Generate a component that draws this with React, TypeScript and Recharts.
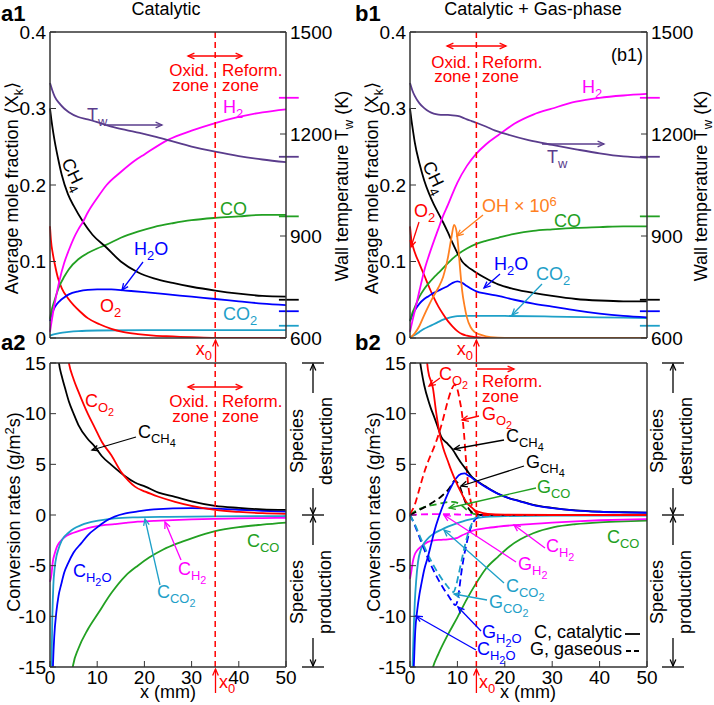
import React from 'react';
import { LineChart, Line, XAxis, YAxis, ReferenceLine } from 'recharts';

document.body.style.margin = '0';

// colours
const RED = '#ff0000';
const MAG = '#ff00ff';
const GRN = '#22a022';
const BLU = '#0000ff';
const CYA = '#1ea0c8';
const PUR = '#5a3c8c';
const ORA = '#ff8020';
const BLK = '#000000';
const AX = '#333333';
const FONT = '"Liberation Sans", Arial, Helvetica, sans-serif';

// x ticks (mm)
const xTicks = [0, 10, 20, 30, 40, 50];

// ---- a1: catalytic, mole fractions [x mm, X] ----
const a1CH4 = [[0, 0.3], [0.3, 0.285], [0.7, 0.268], [1, 0.257], [1.7, 0.235], [2.5, 0.213], [3.8, 0.188], [5, 0.173], [7, 0.152], [9, 0.135], [12, 0.118], [15, 0.1], [18.6, 0.086], [22, 0.078], [26, 0.072], [30, 0.067], [35, 0.062], [40, 0.058], [45, 0.055], [50, 0.054]];
const a1H2 = [[0, 0.008], [0.3, 0.02], [0.7, 0.035], [1, 0.045], [2, 0.075], [3, 0.098], [4, 0.115], [5, 0.13], [6, 0.142], [7, 0.152], [8, 0.164], [10, 0.183], [12, 0.2], [15, 0.217], [18, 0.232], [20, 0.24], [25, 0.259], [30, 0.271], [35, 0.281], [40, 0.289], [45, 0.295], [50, 0.299]];
const a1CO = [[0, 0.025], [0.3, 0.035], [1, 0.05], [2, 0.068], [3, 0.08], [4, 0.09], [6, 0.103], [8, 0.111], [10, 0.117], [12, 0.122], [15, 0.131], [18.6, 0.139], [22, 0.145], [26, 0.15], [30, 0.154], [35, 0.157], [40, 0.159], [45, 0.161], [50, 0.161]];
const a1H2O = [[0, 0.022], [0.3, 0.03], [0.7, 0.036], [1, 0.04], [2, 0.048], [3, 0.053], [4, 0.057], [6, 0.061], [8, 0.063], [10, 0.0635], [13, 0.0635], [16, 0.062], [20, 0.06], [25, 0.057], [30, 0.054], [35, 0.051], [40, 0.048], [45, 0.045], [50, 0.043]];
const a1O2 = [[0, 0.146], [0.2, 0.128], [0.6, 0.11], [1, 0.097], [1.7, 0.078], [2.5, 0.065], [3.8, 0.052], [5, 0.043], [6.3, 0.035], [8, 0.026], [10.5, 0.018], [13, 0.012], [15.4, 0.008], [18.6, 0.005], [22, 0.003], [26, 0.002], [30, 0.001], [35, 0], [50, 0]];
const a1CO2 = [[0, 0.003], [1, 0.005], [2, 0.0065], [4, 0.008], [6, 0.009], [10, 0.0098], [20, 0.0103], [35, 0.0104], [50, 0.0104]];
const a1Tw = [[0, 1350], [0.5, 1328], [1, 1310], [2, 1290], [3, 1275], [4, 1264], [6, 1250], [8, 1243], [10, 1235], [13, 1222], [16, 1212], [19, 1203], [22, 1193], [25, 1182], [30, 1163], [35, 1148], [40, 1135], [45, 1125], [50, 1117]];

// ---- b1: catalytic + gas-phase ----
const b1CH4 = [[0, 0.3], [0.3, 0.285], [0.7, 0.268], [1, 0.256], [2, 0.228], [3, 0.206], [4, 0.189], [5, 0.175], [6, 0.163], [7, 0.151], [8, 0.138], [9, 0.124], [10, 0.111], [11, 0.1], [12, 0.094], [13.6, 0.087], [16, 0.078], [18.6, 0.07], [22, 0.064], [26, 0.059], [30, 0.055], [35, 0.051], [40, 0.049], [45, 0.048], [50, 0.048]];
const b1H2 = [[0, 0.008], [0.5, 0.022], [1, 0.035], [2, 0.062], [3, 0.088], [4, 0.108], [5, 0.126], [6, 0.143], [7, 0.16], [8, 0.174], [9, 0.189], [10, 0.203], [12, 0.225], [14, 0.241], [16, 0.253], [18.6, 0.265], [22, 0.28], [26, 0.292], [30, 0.3], [35, 0.309], [40, 0.314], [45, 0.317], [50, 0.319]];
const b1CO = [[0, 0.022], [0.5, 0.033], [1, 0.04], [2, 0.054], [3, 0.064], [4, 0.072], [5, 0.079], [6, 0.085], [8, 0.098], [10, 0.109], [12, 0.117], [14, 0.123], [16, 0.127], [18.6, 0.131], [22, 0.136], [26, 0.14], [30, 0.142], [35, 0.144], [40, 0.145], [45, 0.146], [50, 0.146]];
const b1H2O = [[0, 0.022], [0.5, 0.03], [1, 0.036], [2, 0.045], [3, 0.051], [4, 0.055], [5, 0.059], [6, 0.062], [7, 0.065], [8, 0.068], [9, 0.072], [10, 0.074], [11, 0.072], [12, 0.068], [13, 0.064], [14, 0.061], [16, 0.058], [18.6, 0.055], [22, 0.05], [26, 0.045], [30, 0.041], [35, 0.036], [40, 0.032], [45, 0.029], [50, 0.027]];
const b1O2 = [[0, 0.146], [0.3, 0.128], [0.7, 0.118], [1, 0.112], [2, 0.097], [3, 0.082], [4, 0.067], [5, 0.053], [6, 0.041], [7, 0.031], [8, 0.022], [9, 0.015], [10, 0.009], [11, 0.005], [12, 0.003], [14, 0.001], [16, 0], [50, 0]];
const b1OH = [[0, 0], [1, 0.006], [2, 0.016], [3, 0.03], [4, 0.043], [5, 0.055], [6, 0.066], [7, 0.08], [8, 0.105], [8.7, 0.13], [9.3, 0.148], [9.8, 0.14], [10.2, 0.118], [10.6, 0.088], [11, 0.062], [11.5, 0.042], [12, 0.027], [12.8, 0.014], [13.6, 0.008], [15, 0.004], [17, 0.001], [20, 0], [50, 0]];
const b1CO2 = [[0, 0.001], [1, 0.004], [2, 0.008], [3, 0.012], [4, 0.015], [5, 0.018], [6, 0.021], [7, 0.024], [8, 0.026], [9, 0.0275], [10, 0.0285], [12, 0.029], [14, 0.029], [20, 0.0288], [30, 0.028], [40, 0.027], [50, 0.026]];
const b1Tw = [[0, 1350], [0.5, 1328], [1, 1312], [2, 1290], [3, 1276], [4, 1266], [5, 1260], [6, 1257], [7, 1256], [8, 1256], [9, 1255], [10, 1253], [11, 1249], [12, 1243], [13, 1238], [14, 1233], [16, 1222], [18, 1210], [20, 1201], [25, 1182], [30, 1168], [35, 1155], [40, 1143], [45, 1134], [50, 1130]];

// measured outlet values (short marks at right edge)
const outletSpecies = ['H2', 'CO', 'CH4', 'H2O', 'CO2'];
const outletValues = [0.314, 0.159, 0.05, 0.035, 0.016];
const outletColors = [MAG, GRN, BLK, BLU, CYA];
const outletTw = 1133;

// ---- a2: conversion rates, catalytic ----
const a2CCH4 = [[1.5, 17], [1.9, 15], [2.5, 13.7], [3.2, 12.5], [4, 11.2], [5, 10], [6, 8.9], [8, 7.5], [9.5, 6.75], [11, 5.8], [13, 4.95], [16, 3.8], [18, 3.2], [20.2, 2.8], [23, 2.2], [26.5, 1.8], [30, 1.35], [35, 0.9], [40, 0.7], [45, 0.55], [50, 0.5]];
const a2CO2 = [[3.5, 16.5], [4, 15], [5, 13.4], [6, 12.2], [8, 10], [9.5, 8.6], [11, 7.2], [13, 5.9], [15, 4.3], [16.6, 3.4], [18, 2.8], [20.2, 2.3], [23, 1.8], [26.5, 1.3], [30, 0.9], [35, 0.5], [40, 0.3], [45, 0.18], [50, 0.12]];
const a2CH2O = [[0.5, -17], [0.64, -14.7], [0.9, -12], [1.34, -9.6], [1.8, -8.0], [2.4, -6.8], [3, -5.7], [3.8, -4.8], [5, -3.7], [6.6, -2.8], [8, -2.0], [10.2, -1.15], [12, -0.55], [13.7, -0.16], [16, 0.15], [18.6, 0.35], [22, 0.55], [26, 0.66], [30, 0.68], [35, 0.62], [40, 0.52], [45, 0.42], [50, 0.33]];
const a2CH2 = [[0, -6.6], [0.3, -5.9], [0.6, -4.6], [1, -3.8], [1.5, -3.1], [2.4, -2.5], [3.5, -2.05], [5, -1.75], [6.6, -1.5], [8, -1.3], [10, -1.1], [13.7, -0.9], [16, -0.78], [18.6, -0.66], [22, -0.58], [26, -0.5], [30, -0.44], [35, -0.38], [40, -0.34], [45, -0.3], [50, -0.28]];
const a2CCO2 = [[0.2, -17], [0.35, -14], [0.5, -10], [0.7, -7], [1, -5.2], [1.4, -4.0], [1.7, -3.5], [2.4, -2.6], [3, -2.15], [3.8, -1.8], [5, -1.35], [6.6, -1.0], [8, -0.78], [10.2, -0.56], [13.7, -0.33], [18.6, -0.23], [25, -0.18], [35, -0.14], [50, -0.1]];
const a2CCO = [[4.5, -16], [4.9, -14.8], [6, -13.2], [8, -11.3], [10.2, -9.7], [13, -7.7], [16, -6.0], [18.6, -5.0], [21, -4.2], [24, -3.4], [27, -2.8], [30, -2.3], [35, -1.6], [40, -1.2], [45, -0.95], [50, -0.75]];

// ---- b2: conversion rates, catalytic (C) and gaseous (G) ----
const b2CCH4 = [[1.5, 17], [2, 15.5], [2.4, 14.3], [3, 12.8], [4, 11.1], [4.5, 10.4], [5, 9.8], [6, 8.5], [6.6, 7.7], [8, 7.0], [9.1, 6.4], [10, 5.7], [11, 5.0], [12, 4.4], [13, 3.8], [14, 3.4], [16, 2.8], [18.6, 2.1], [21, 1.65], [23, 1.4], [26, 1.0], [30, 0.7], [35, 0.45], [40, 0.33], [45, 0.27], [50, 0.23]];
const b2CO2 = [[3.2, 17], [3.8, 14.3], [4.85, 12.5], [5.5, 10.2], [6.3, 7.9], [7, 6.6], [8, 5.3], [8.7, 4.4], [9.5, 3.5], [10.8, 2.2], [12, 1.2], [13, 0.75], [13.6, 0.5], [14.5, 0.3], [16.4, 0.1], [20, 0.03], [30, 0], [50, 0]];
const b2GO2 = [[0, 0.1], [1, 1.0], [2, 2.6], [3, 4.2], [4, 5.5], [5, 6.6], [6, 7.9], [7, 9.5], [8, 11.3], [8.7, 12.3], [9.4, 12.85], [10, 12.4], [10.5, 11.3], [11, 9.9], [11.4, 8], [11.8, 5.5], [12.2, 3.3], [12.7, 1.6], [13.3, 0.7], [14, 0.25], [15, 0.05], [16, 0], [50, 0]];
const b2CH2O = [[0.6, -17], [0.8, -15], [1.1, -11.5], [1.5, -9.5], [2, -7.8], [2.4, -6.8], [3, -5.4], [3.8, -4.1], [4.5, -2.8], [5.2, -1.5], [6, -0.3], [6.6, 0.5], [7.5, 1.6], [8.7, 2.8], [9.7, 3.6], [10.8, 4.05], [11.5, 4.1], [12.3, 3.9], [13, 3.7], [13.6, 3.46], [14, 3.35], [16, 2.75], [18.6, 2.08], [21, 1.63], [23, 1.38], [26, 0.98], [30, 0.68], [35, 0.44], [40, 0.32], [45, 0.26], [50, 0.22]];
const b2GCH4 = [[0, 0], [1, 0.25], [2, 0.5], [3, 0.75], [4, 1.0], [5, 1.3], [6, 1.6], [7, 2.0], [8, 2.45], [8.8, 3.0], [9.4, 3.4], [10, 3.2], [10.5, 2.8], [11, 2.15], [11.5, 1.5], [12, 0.95], [12.5, 0.55], [13, 0.3], [13.6, 0.1], [14.5, 0], [50, 0]];
const b2GCO = [[0, 0], [1, 0.35], [2, 0.6], [3, 0.78], [4, 0.9], [5, 1.0], [6, 1.1], [7, 1.2], [8, 1.28], [9, 1.3], [10, 1.2], [11, 0.9], [12, 0.5], [13, 0.2], [14, 0.05], [15, 0], [50, 0]];
const b2GH2 = [[0, 0], [2, 0.05], [5, 0.08], [8, 0.08], [10, 0.05], [12, 0.02], [14, 0], [16, 0]];
const b2GH2O = [[0, 0], [1, -1.0], [2, -2.2], [3, -3.4], [4, -4.5], [5, -5.5], [6, -6.4], [7, -7.2], [8, -7.9], [9, -8.6], [9.5, -8.9], [10, -8.5], [10.4, -7.3], [10.8, -5.8], [11.3, -4.3], [11.9, -2.9], [12.4, -1.9], [12.9, -1.15], [13.5, -0.6], [14, -0.3], [15, -0.08], [16, 0], [50, 0]];
const b2GCO2 = [[0, 0], [1, -0.9], [2, -2.0], [3, -3.1], [4, -4.1], [5, -5.0], [6, -5.8], [7, -6.5], [8, -7.1], [8.7, -7.5], [9.2, -7.6], [9.7, -7.0], [10.2, -6.0], [10.7, -4.9], [11.2, -3.8], [11.8, -2.6], [12.4, -1.6], [13, -0.9], [13.5, -0.45], [14, -0.2], [15, -0.05], [16, 0], [50, 0]];
const b2CCO2 = [[0.4, -17], [0.6, -14], [0.8, -11], [1, -8.7], [1.3, -6.5], [1.7, -4.6], [2.3, -3.4], [3.1, -2.7], [4, -2.2], [5, -1.85], [6.6, -1.45], [8, -1.15], [10, -0.8], [12, -0.5], [14, -0.3], [16, -0.18], [20, -0.1], [30, -0.06], [50, -0.05]];
const b2CH2 = [[0, -6.3], [0.3, -5.5], [0.6, -4.6], [1, -3.9], [1.5, -3.5], [2.4, -3.1], [3.8, -2.65], [5, -2.5], [6.6, -2.45], [8, -2.4], [10, -2.25], [11, -2.0], [12, -1.8], [13.6, -1.5], [16, -1.3], [18.6, -1.15], [22, -1.0], [26, -0.88], [30, -0.75], [35, -0.62], [40, -0.52], [45, -0.45], [50, -0.4]];
const b2CCO = [[4.3, -16], [4.85, -15], [6, -13.7], [8, -11.8], [10, -10.1], [12, -8.3], [14, -6.7], [16, -5.3], [18.6, -4.1], [21, -3.1], [23.3, -2.4], [26, -1.8], [30.4, -1.2], [35, -0.9], [40, -0.72], [45, -0.62], [50, -0.56]];

const pts = (a: number[][]) => a.map(([x, y]) => ({ x, y }));

type Series = { d: number[][]; c: string; dash?: boolean };

const tickFont = { fontSize: 19, fill: '#000' };
const axisLine = { stroke: AX, strokeWidth: 1.5 };

function MolePanel({ left, width, rightW, x0, series, tw }: { left: number; width: number; rightW: number; x0: number; series: Series[]; tw: number[][] }) {
  return (
    <div style={{ position: 'absolute', left, top: 0 }}>
      <LineChart width={width} height={352} margin={{ top: 31, right: 0, bottom: 13, left: 0 }}>
        <XAxis xAxisId="b" type="number" dataKey="x" domain={[0, 50]} ticks={xTicks} interval={0} tick={false} tickSize={-6} height={1} stroke={AX} axisLine={axisLine} />
        <XAxis xAxisId="t" orientation="top" type="number" dataKey="x" domain={[0, 50]} ticks={xTicks} interval={0} tick={false} tickSize={-6} height={1} stroke={AX} axisLine={axisLine} />
        <YAxis yAxisId="l" type="number" domain={[0, 0.4]} ticks={[0, 0.1, 0.2, 0.3, 0.4]} interval={0} allowDataOverflow width={50} tickSize={-6} tickMargin={10} stroke={AX} axisLine={axisLine} tick={tickFont} tickFormatter={(v: number) => (v === 0 ? '0' : v.toFixed(1))} />
        <YAxis yAxisId="r" orientation="right" type="number" domain={[600, 1500]} ticks={[600, 900, 1200, 1500]} interval={0} allowDataOverflow width={rightW} tickSize={-6} tickMargin={10} stroke={AX} axisLine={axisLine} tick={tickFont} />
        {series.map((s, i) => (
          <Line key={i} xAxisId="b" yAxisId="l" data={pts(s.d)} dataKey="y" type="monotone" stroke={s.c} strokeWidth={1.8} dot={false} isAnimationActive={false} />
        ))}
        <Line xAxisId="b" yAxisId="r" data={pts(tw)} dataKey="y" type="monotone" stroke={PUR} strokeWidth={1.8} dot={false} isAnimationActive={false} />
        {outletValues.map((v, i) => (
          <ReferenceLine key={outletSpecies[i]} xAxisId="b" yAxisId="l" segment={[{ x: 48.5, y: v }, { x: 52.7, y: v }]} stroke={outletColors[i]} strokeWidth={1.8} ifOverflow="visible" />
        ))}
        <ReferenceLine xAxisId="b" yAxisId="r" segment={[{ x: 48.5, y: outletTw }, { x: 52.7, y: outletTw }]} stroke={PUR} strokeWidth={1.8} ifOverflow="visible" />
        <ReferenceLine xAxisId="b" yAxisId="l" x={x0} stroke={RED} strokeWidth={1.5} strokeDasharray="6 4" />
      </LineChart>
    </div>
  );
}

function RatePanel({ left, width, rightW, x0, series }: { left: number; width: number; rightW: number; x0: number; series: Series[] }) {
  return (
    <div style={{ position: 'absolute', left, top: 345 }}>
      <LineChart width={width} height={360} margin={{ top: 17, right: 0, bottom: 8, left: 0 }}>
        <XAxis xAxisId="b" type="number" dataKey="x" domain={[0, 50]} ticks={xTicks} interval={0} tickSize={-6} tickMargin={10} height={30} stroke={AX} axisLine={axisLine} tick={tickFont} />
        <XAxis xAxisId="t" orientation="top" type="number" dataKey="x" domain={[0, 50]} ticks={xTicks} interval={0} tick={false} tickSize={-6} height={1} stroke={AX} axisLine={axisLine} />
        <YAxis yAxisId="l" type="number" domain={[-15, 15]} ticks={[-15, -10, -5, 0, 5, 10, 15]} interval={0} allowDataOverflow width={50} tickSize={-6} tickMargin={10} stroke={AX} axisLine={axisLine} tick={tickFont} />
        <YAxis yAxisId="r" orientation="right" type="number" domain={[-15, 15]} ticks={[-15, -10, -5, 0, 5, 10, 15]} interval={0} allowDataOverflow width={rightW} tickSize={-6} tick={false} stroke={AX} axisLine={axisLine} />
        {series.map((s, i) => (
          <Line key={i} xAxisId="b" yAxisId="l" data={pts(s.d)} dataKey="y" type="monotone" stroke={s.c} strokeWidth={1.8} strokeDasharray={s.dash ? '7 4' : undefined} dot={false} isAnimationActive={false} />
        ))}
        <ReferenceLine xAxisId="b" yAxisId="l" x={x0} stroke={RED} strokeWidth={1.5} strokeDasharray="6 4" />
      </LineChart>
    </div>
  );
}

// ---- annotation helpers ----
type Seg = [string, number];
function parse(s: string, lvl = 0, out: Seg[] = []): Seg[] {
  let i = 0;
  let buf = '';
  const flush = () => {
    if (buf) out.push([buf, lvl]);
    buf = '';
  };
  while (i < s.length) {
    const ch = s[i];
    if (ch === '_' || ch === '^') {
      flush();
      const nl = ch === '_' ? (lvl >= 1 ? lvl + 1 : 1) : -1;
      let inner = '';
      if (s[i + 1] === '{') {
        let d = 1;
        let j = i + 2;
        while (d > 0 && j < s.length) {
          if (s[j] === '{') d++;
          else if (s[j] === '}') d--;
          j++;
        }
        inner = s.slice(i + 2, j - 1);
        i = j;
      } else {
        inner = s[i + 1];
        i += 2;
      }
      parse(inner, nl, out);
    } else {
      buf += ch;
      i++;
    }
  }
  flush();
  return out;
}

function Tx({ x, y, s, c = '#000', size = 18, a = 'start', r = 0, bold = false }: { x: number; y: number; s: string; c?: string; size?: number; a?: 'start' | 'middle' | 'end'; r?: number; bold?: boolean }) {
  const off = (l: number) => (l === 1 ? 0.3 : l >= 2 ? 0.5 : l < 0 ? -0.36 : 0);
  const sc = (l: number) => (l === 0 ? 1 : l >= 2 ? 0.6 : 0.72);
  let cur = 0;
  return (
    <text x={x} y={y} fill={c} fontSize={size} fontWeight={bold ? 'bold' : undefined} textAnchor={a} transform={r ? `rotate(${r} ${x} ${y})` : undefined}>
      {parse(s).map(([t, l], i) => {
        const tgt = off(l) * size;
        const dy = tgt - cur;
        cur = tgt;
        return (
          <tspan key={i} dy={dy || undefined} fontSize={size * sc(l)}>
            {t}
          </tspan>
        );
      })}
    </text>
  );
}

function head(xa: number, ya: number, xb: number, yb: number) {
  const an = Math.atan2(yb - ya, xb - xa);
  const L = 7;
  const w = 0.42;
  return `${xb - L * Math.cos(an - w)},${yb - L * Math.sin(an - w)} ${xb},${yb} ${xb - L * Math.cos(an + w)},${yb - L * Math.sin(an + w)}`;
}

function Arrow({ x1, y1, x2, y2, c, both = false }: { x1: number; y1: number; x2: number; y2: number; c: string; both?: boolean }) {
  return (
    <g stroke={c} strokeWidth={1.3} fill="none">
      <line x1={x1} y1={y1} x2={x2} y2={y2} />
      <polyline points={head(x1, y1, x2, y2)} />
      {both && <polyline points={head(x2, y2, x1, y1)} />}
    </g>
  );
}

function SpeciesBracket({ cx }: { cx: number }) {
  return (
    <g>
      {[363, 515, 667].map((y) => (
        <line key={y} x1={cx - 11} y1={y} x2={cx + 11} y2={y} stroke="#000" strokeWidth={1.3} />
      ))}
      <Arrow x1={cx} y1={393} x2={cx} y2={364} c="#000" />
      <Arrow x1={cx} y1={488} x2={cx} y2={514} c="#000" />
      <Arrow x1={cx} y1={545} x2={cx} y2={516} c="#000" />
      <Arrow x1={cx} y1={638} x2={cx} y2={666} c="#000" />
      <Tx x={cx - 10} y={441} s="Species" a="middle" r={-90} />
      <Tx x={cx + 19} y={441} s="destruction" a="middle" r={-90} />
      <Tx x={cx - 10} y={592} s="Species" a="middle" r={-90} />
      <Tx x={cx + 18} y={592} s="production" a="middle" r={-90} />
    </g>
  );
}

function Overlay() {
  return (
    <svg width={714} height={705} style={{ position: 'absolute', left: 0, top: 0, pointerEvents: 'none' }} fontFamily={FONT}>
      {/* ---- a1 ---- */}
      <Tx x={1} y={21} s="a1" size={22} bold />
      <Tx x={166} y={15} s="Catalytic" a="middle" />
      <Arrow x1={188} y1={56} x2={242} y2={56} c={RED} both />
      <Tx x={209} y={76} s="Oxid." c={RED} size={17} a="end" />
      <Tx x={209} y={91} s="zone" c={RED} size={17} a="end" />
      <Tx x={222} y={76} s="Reform." c={RED} size={17} />
      <Tx x={222} y={91} s="zone" c={RED} size={17} />
      <Tx x={87} y={121} s="T_w" c={PUR} />
      <Arrow x1={107} y1={125} x2={162} y2={125} c={PUR} />
      <Tx x={223} y={113} s="H_2" c={MAG} />
      <Tx x={61} y={162} s="CH_4" r={64} />
      <Tx x={220} y={215} s="CO" c={GRN} />
      <Tx x={134} y={255} s="H_2O" c={BLU} />
      <Arrow x1={143} y1={262} x2={122} y2={290} c={BLU} />
      <Tx x={100} y={312} s="O_2" c={RED} />
      <Tx x={223} y={320} s="CO_2" c={CYA} />
      <Tx x={18} y={188} s="Average mole fraction ⟨X_k⟩" a="middle" r={-90} />
      <Tx x={348} y={186} s="Wall temperature T_w (K)" a="middle" r={-90} />
      <Arrow x1={215.5} y1={362} x2={215.5} y2={340} c={RED} />
      <Tx x={212} y={355} s="x_0" c={RED} a="end" />

      {/* ---- b1 ---- */}
      <Tx x={355} y={21} s="b1" size={22} bold />
      <Tx x={533} y={15} s="Catalytic + Gas-phase" a="middle" />
      <Tx x={611} y={61} s="(b1)" />
      <Arrow x1={447} y1={46} x2={506} y2={46} c={RED} both />
      <Tx x={471} y={68} s="Oxid." c={RED} size={17} a="end" />
      <Tx x={471} y={82} s="zone" c={RED} size={17} a="end" />
      <Tx x={482} y={68} s="Reform." c={RED} size={17} />
      <Tx x={482} y={82} s="zone" c={RED} size={17} />
      <Tx x={582} y={93} s="H_2" c={MAG} />
      <Tx x={547} y={163} s="T_w" c={PUR} />
      <Arrow x1={542} y1={144} x2={604} y2={144} c={PUR} />
      <Tx x={422} y={165} s="CH_4" r={64} />
      <Tx x={482} y={212} s="OH × 10^6" c={ORA} />
      <Arrow x1={483} y1={215} x2={457} y2={236} c={ORA} />
      <Tx x={414} y={217} s="O_2" c={RED} />
      <Arrow x1={419} y1={222} x2={411} y2={247} c={RED} />
      <Tx x={554} y={227} s="CO" c={GRN} />
      <Tx x={494} y={270} s="H_2O" c={BLU} />
      <Arrow x1={500} y1={274} x2={484} y2={288} c={BLU} />
      <Tx x={536} y={280} s="CO_2" c={CYA} />
      <Arrow x1={542} y1={284} x2={512} y2={315} c={CYA} />
      <Tx x={378} y={188} s="Average mole fraction ⟨X_k⟩" a="middle" r={-90} />
      <Tx x={707} y={186} s="Wall temperature T_w (K)" a="middle" r={-90} />
      <Arrow x1={476.4} y1={362} x2={476.4} y2={340} c={RED} />
      <Tx x={473} y={355} s="x_0" c={RED} a="end" />

      {/* ---- a2 ---- */}
      <Tx x={1} y={350} s="a2" size={22} bold />
      <Arrow x1={188} y1={387} x2={242} y2={387} c={RED} both />
      <Tx x={209} y={407} s="Oxid." c={RED} size={17} a="end" />
      <Tx x={209} y={422} s="zone" c={RED} size={17} a="end" />
      <Tx x={222} y={407} s="Reform." c={RED} size={17} />
      <Tx x={222} y={422} s="zone" c={RED} size={17} />
      <Tx x={85} y={407} s="C_{O_2}" c={RED} />
      <Tx x={138} y={438} s="C_{CH_4}" />
      <Arrow x1={136} y1={437} x2={92} y2={450} c={BLK} />
      <Tx x={73} y={577} s="C_{H_2O}" c={BLU} />
      <Tx x={157} y={598} s="C_{CO_2}" c={CYA} />
      <Arrow x1={160} y1={585} x2={145} y2={519} c={CYA} />
      <Tx x={178} y={575} s="C_{H_2}" c={MAG} />
      <Arrow x1={181} y1={560} x2={165} y2={522} c={MAG} />
      <Tx x={247} y={547} s="C_{CO}" c={GRN} />
      <Tx x={20} y={512} s="Conversion rates (g/m^2s)" a="middle" r={-90} />
      <Tx x={168} y={698} s="x (mm)" a="middle" />
      <Arrow x1={215.5} y1={693} x2={215.5} y2={669} c={RED} />
      <Tx x={219} y={688} s="x_0" c={RED} />
      <SpeciesBracket cx={313} />

      {/* ---- b2 ---- */}
      <Tx x={355} y={350} s="b2" size={22} bold />
      <Arrow x1={477} y1={369} x2={514} y2={369} c={RED} />
      <Tx x={482} y={387} s="Reform." c={RED} size={17} />
      <Tx x={482} y={402} s="zone" c={RED} size={17} />
      <Tx x={439} y={380} s="C_{O_2}" c={RED} />
      <Arrow x1={440} y1={378} x2={429} y2={386} c={RED} />
      <Tx x={482} y={420} s="G_{O_2}" c={RED} />
      <Arrow x1={479} y1={416} x2={462} y2={420} c={RED} />
      <Tx x={506} y={442} s="C_{CH_4}" />
      <Arrow x1={504} y1={440} x2={454} y2={449} c={BLK} />
      <Tx x={526} y={468} s="G_{CH_4}" />
      <Arrow x1={524} y1={466} x2={461} y2={486} c={BLK} />
      <Tx x={537} y={493} s="G_{CO}" c={GRN} />
      <Arrow x1={536} y1={488} x2={449} y2={508} c={GRN} />
      <Tx x={607} y={543} s="C_{CO}" c={GRN} />
      <Tx x={546} y={552} s="C_{H_2}" c={MAG} />
      <Arrow x1={545} y1={548} x2={514} y2={525} c={MAG} />
      <Tx x={518} y={570} s="G_{H_2}" c={MAG} />
      <Arrow x1={516} y1={562} x2={444} y2={515} c={MAG} />
      <Tx x={506} y={592} s="C_{CO_2}" c={CYA} />
      <Arrow x1={504} y1={583} x2={444} y2={530} c={CYA} />
      <Tx x={489} y={608} s="G_{CO_2}" c={CYA} />
      <Arrow x1={487} y1={600} x2={454} y2={594} c={CYA} />
      <Tx x={482} y={638} s="G_{H_2O}" c={BLU} />
      <Arrow x1={481} y1={631} x2={458} y2={607} c={BLU} />
      <Tx x={477} y={655} s="C_{H_2O}" c={BLU} />
      <Arrow x1={476} y1={650} x2={416} y2={616} c={BLU} />
      <Tx x={622} y={638} s="C, catalytic" a="end" />
      <line x1={625} y1={634} x2={640} y2={634} stroke="#000" strokeWidth={1.8} />
      <Tx x={622} y={655} s="G, gaseous" a="end" />
      <line x1={626} y1={651} x2={641} y2={651} stroke="#000" strokeWidth={1.8} strokeDasharray="5 3" />
      <Tx x={380} y={512} s="Conversion rates (g/m^2s)" a="middle" r={-90} />
      <Tx x={528} y={698} s="x (mm)" a="middle" />
      <Arrow x1={476.4} y1={693} x2={476.4} y2={669} c={RED} />
      <Tx x={479} y={688} s="x_0" c={RED} />
      <SpeciesBracket cx={673} />
    </svg>
  );
}

const a1Series: Series[] = [
  { d: a1CO2, c: CYA },
  { d: a1O2, c: RED },
  { d: a1H2O, c: BLU },
  { d: a1CO, c: GRN },
  { d: a1CH4, c: BLK },
  { d: a1H2, c: MAG },
];
const b1Series: Series[] = [
  { d: b1CO2, c: CYA },
  { d: b1O2, c: RED },
  { d: b1H2O, c: BLU },
  { d: b1CO, c: GRN },
  { d: b1CH4, c: BLK },
  { d: b1H2, c: MAG },
  { d: b1OH, c: ORA },
];
const a2Series: Series[] = [
  { d: a2CCO, c: GRN },
  { d: a2CH2, c: MAG },
  { d: a2CCO2, c: CYA },
  { d: a2CH2O, c: BLU },
  { d: a2CCH4, c: BLK },
  { d: a2CO2, c: RED },
];
const b2Series: Series[] = [
  { d: b2CCO, c: GRN },
  { d: b2CH2, c: MAG },
  { d: b2CCO2, c: CYA },
  { d: b2GH2, c: MAG, dash: true },
  { d: b2GCO, c: GRN, dash: true },
  { d: b2GCH4, c: BLK, dash: true },
  { d: b2GH2O, c: BLU, dash: true },
  { d: b2GCO2, c: CYA, dash: true },
  { d: b2GO2, c: RED, dash: true },
  { d: b2CCH4, c: BLK },
  { d: b2CH2O, c: BLU },
  { d: b2CO2, c: RED },
];

export default function App() {
  return (
    <div style={{ position: 'relative', width: 714, height: 705, background: '#fff', fontFamily: FONT }}>
      <RatePanel left={0} width={357} rightW={71} x0={35} series={a2Series} />
      <RatePanel left={360} width={354} rightW={67} x0={14} series={b2Series} />
      <MolePanel left={0} width={357} rightW={71} x0={35} series={a1Series} tw={a1Tw} />
      <MolePanel left={360} width={354} rightW={67} x0={14} series={b1Series} tw={b1Tw} />
      <Overlay />
    </div>
  );
}
